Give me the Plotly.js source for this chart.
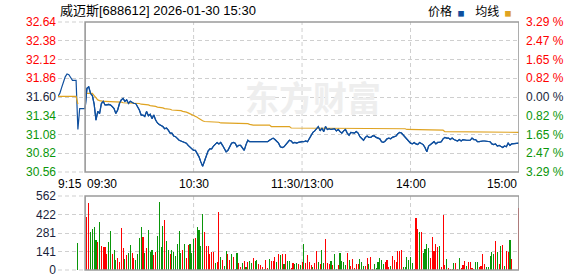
<!DOCTYPE html>
<html><head><meta charset="utf-8">
<script src="https://cdn.plot.ly/plotly-3.0.1.min.js"></script>
<style>html,body{margin:0;padding:0;background:#fff}#chart{width:578px;height:276px}</style>
</head><body><div id="chart"></div>
<script>
// ---------- data ----------
const stockTitle = '威迈斯[688612] 2026-01-30 15:30';
const legendNames = ['价格', '均线'];
const watermarkText = '东方财富';
const prevClose = 31.60;
const priceTicks = [30.56, 30.82, 31.08, 31.34, 31.60, 31.86, 32.12, 32.38, 32.64];
const priceTickText = ['30.56', '30.82', '31.08', '31.34', '31.60', '31.86', '32.12', '32.38', '32.64'];
const pctTickText = ['3.29 %', '2.47 %', '1.65 %', '0.82 %', '0.00 %', '0.82 %', '1.65 %', '2.47 %', '3.29 %'];
const volTicks = [0, 140.5, 281, 421.5, 562];
const volTickText = ['0', '141', '281', '422', '562'];
const timeLabels = ['9:15', '09:30', '10:30', '11:30/13:00', '14:00', '15:00'];
const timeLabelMinutes = [-15, 0, 60, 120, 180, 240];

// call auction 9:15 - 9:29 (minutes -15 .. -1 relative to 9:30)
const preMinutes = [-15, -14, -13, -12, -11, -10, -9, -8, -7, -6, -5, -4, -3, -2, -1];
const prePrice = [31.61, 31.65, 31.73, 31.81, 31.88, 31.92, 31.91, 31.87, 31.83, 31.83, 31.83, 31.15, 31.44, 31.44, 31.44];
const preAvg = [31.61, 31.61, 31.61, 31.61, 31.61, 31.61, 31.61, 31.61, 31.61, 31.61, 31.61, 31.50, null, null, null];
const preVolume = [0, 0, 0, 0, 0, 0, 0, 0, 0, 0, 0, 206, 0, 0, 0];
const preDir = 'ggggggggggggggg';

// continuous session, one value per minute, 09:30 .. 11:30 | 13:00 .. 15:00 (241 minutes)
const price = [
  31.44, 31.72, 31.74, 31.65, 31.62, 31.50, 31.28, 31.40, 31.37, 31.51,
  31.54, 31.49, 31.49, 31.50, 31.49, 31.47, 31.44, 31.37, 31.42, 31.51,
  31.56, 31.58, 31.54, 31.56, 31.51, 31.54, 31.52, 31.51, 31.51, 31.47,
  31.42, 31.35, 31.35, 31.33, 31.40, 31.34, 31.36, 31.30, 31.35, 31.28,
  31.24, 31.22, 31.21, 31.19, 31.16, 31.17, 31.14, 31.10, 31.10, 31.06,
  31.05, 31.02, 31.00, 30.99, 30.98, 30.97, 30.96, 30.93, 30.91, 30.88,
  30.86, 30.86, 30.82, 30.77, 30.70, 30.64, 30.71, 30.78, 30.85, 30.88,
  30.88, 30.92, 30.95, 30.97, 30.95, 30.97, 30.93, 30.89, 30.84, 30.86,
  30.91, 30.96, 30.97, 30.96, 30.91, 30.93, 30.93, 30.90, 30.86, 30.94,
  31.00, 30.98, 30.98, 30.98, 30.99, 30.99, 30.98, 30.98, 30.99, 30.99,
  30.98, 30.98, 31.00, 31.02, 31.03, 31.01, 30.99, 30.96, 30.91, 30.90,
  30.91, 30.94, 30.97, 31.00, 30.99, 30.96, 30.97, 30.96, 30.97, 30.98,
  30.98, 30.98, 30.99, 30.98, 31.02, 31.06, 31.11, 31.13, 31.16, 31.19,
  31.13, 31.17, 31.12, 31.19, 31.15, 31.16, 31.15, 31.15, 31.16, 31.13,
  31.15, 31.12, 31.10, 31.13, 31.15, 31.10, 31.07, 31.11, 31.10, 31.10,
  31.12, 31.10, 31.05, 31.03, 31.00, 31.04, 31.06, 31.04, 31.04, 31.06,
  31.06, 31.04, 31.03, 31.02, 30.98, 30.97, 30.99, 31.02, 31.03, 31.02,
  31.04, 31.05, 31.06, 31.09, 31.11, 31.10, 31.07, 31.04, 31.01, 30.98,
  30.96, 30.95, 30.97, 30.95, 30.94, 30.97, 30.96, 30.94, 30.90, 30.84,
  30.92, 30.94, 30.97, 30.98, 30.95, 30.97, 30.97, 30.98, 31.02, 31.04,
  31.03, 31.03, 31.01, 31.03, 31.01, 31.00, 30.99, 31.01, 30.99, 31.01,
  31.00, 31.00, 31.00, 31.00, 31.03, 31.01, 31.01, 30.98, 30.98, 30.99,
  30.99, 30.99, 30.99, 30.99, 30.98, 30.95, 30.94, 30.95, 30.92, 30.93,
  30.91, 30.90, 30.92, 30.91, 30.96, 30.93, 30.95, 30.95, 30.95, 30.95,
  30.96
];
const avgPrice = [
  31.65, 31.65, 31.65, 31.65, 31.65, 31.62, 31.59, 31.56, 31.55, 31.54,
  31.54, 31.54, 31.54, 31.53, 31.53, 31.53, 31.53, 31.53, 31.53, 31.53,
  31.53, 31.52, 31.52, 31.52, 31.52, 31.52, 31.52, 31.52, 31.52, 31.51,
  31.51, 31.50, 31.50, 31.50, 31.49, 31.49, 31.48, 31.48, 31.47, 31.47,
  31.46, 31.46, 31.45, 31.45, 31.44, 31.44, 31.43, 31.43, 31.42, 31.42,
  31.42, 31.41, 31.41, 31.41, 31.40, 31.40, 31.39, 31.38, 31.37, 31.36,
  31.35, 31.34, 31.32, 31.30, 31.28, 31.27, 31.26, 31.26, 31.25, 31.25,
  31.25, 31.25, 31.25, 31.25, 31.25, 31.24, 31.24, 31.24, 31.24, 31.24,
  31.24, 31.24, 31.24, 31.23, 31.23, 31.23, 31.23, 31.23, 31.23, 31.23,
  31.23, 31.22, 31.21, 31.21, 31.21, 31.21, 31.21, 31.21, 31.21, 31.21,
  31.21, 31.21, 31.21, 31.19, 31.19, 31.19, 31.19, 31.19, 31.19, 31.19,
  31.19, 31.19, 31.19, 31.19, 31.17, 31.17, 31.17, 31.17, 31.17, 31.17,
  31.17, 31.17, 31.17, 31.17, 31.17, 31.17, 31.17, 31.17, 31.17, 31.17,
  31.17, 31.17, 31.17, 31.17, 31.17, 31.17, 31.17, 31.17, 31.17, 31.17,
  31.17, 31.17, 31.17, 31.17, 31.17, 31.17, 31.16, 31.16, 31.16, 31.16,
  31.16, 31.16, 31.16, 31.16, 31.16, 31.16, 31.16, 31.16, 31.16, 31.16,
  31.16, 31.16, 31.16, 31.16, 31.16, 31.16, 31.16, 31.16, 31.16, 31.16,
  31.16, 31.16, 31.16, 31.16, 31.16, 31.16, 31.16, 31.16, 31.15, 31.15,
  31.15, 31.15, 31.15, 31.15, 31.15, 31.15, 31.15, 31.15, 31.14, 31.14,
  31.14, 31.14, 31.14, 31.14, 31.14, 31.14, 31.14, 31.14, 31.14, 31.12,
  31.12, 31.12, 31.12, 31.12, 31.12, 31.12, 31.12, 31.12, 31.12, 31.12,
  31.12, 31.12, 31.12, 31.12, 31.12, 31.12, 31.12, 31.12, 31.12, 31.12,
  31.12, 31.12, 31.12, 31.12, 31.12, 31.12, 31.12, 31.12, 31.12, 31.12,
  31.11, 31.11, 31.11, 31.11, 31.11, 31.11, 31.11, 31.11, 31.11, 31.11,
  31.11
];
const volume = [
  0,
  404, 511, 290, 310, 328, 229, 214, 366, 183, 175, 175, 122, 214, 298, 122, 153, 76,
  92, 61, 320, 168, 84, 114, 130, 191, 130, 92, 76, 122, 244, 328, 252, 130, 168,
  305, 137, 153, 114, 137, 259, 519, 175, 336, 381, 221, 153, 122, 153, 137, 107, 198,
  298, 130, 153, 198, 92, 191, 198, 130, 237, 244, 328, 305, 183, 427, 290, 183, 183,
  122, 137, 137, 53, 61, 442, 99, 76, 31, 145, 122, 76, 122, 99, 8, 130, 53, 23, 53,
  69, 23, 61, 69, 53, 92, 69, 76, 46, 38, 23, 8, 76, 15, 84, 69, 69, 99, 61, 122, 114,
  122, 46, 122, 69, 69, 15, 53, 46,
  53, 46, 38, 61, 198, 53, 114, 61, 38, 23, 53, 145, 61, 46, 153, 53, 237, 53, 46, 69,
  38, 122, 8, 38, 130, 69, 61, 38, 130, 76, 31, 84, 15, 46, 46, 84, 61, 31, 31, 92, 46,
  99, 8, 46, 15, 61, 92, 76, 46, 61, 76, 23, 31, 107, 76, 61, 145, 145, 153, 23, 23, 99,
  76, 99, 53,
  8, 397, 313, 290, 290, 130, 160, 198, 168, 92, 252, 145, 198, 175, 183, 23, 420, 38,
  84, 15, 8, 8, 53, 53, 8, 92, 15, 38, 69, 31, 61, 61, 15, 8, 61, 61, 23, 31, 122, 46,
  23, 23, 107, 137, 122, 221, 137, 46, 183, 191, 31, 145, 137, 229, 84,
  0, 0, 0, 473
];
// r = up minute (red bar), g = down minute (green bar)
const volDir = 'r' +
  'rrggggrgrr' + 'rrggrggrrr' + 'rgrggrrggg' + 'grgrgggrrg' + 'gggrggrggg' + 'g' +
  'ggrgrrgggr' + 'ggggrrrrrr' + 'grrgrggrrg' + 'rggrrgrgrg' + 'grggrrrgrr' + 'grrrgrgrgr' + 'ggrrg' +
  'grgrgrrrrg' + 'rrgrggrrrg' + 'rggrggggrg' + 'rrrrrgggrr' + 'grrggggggr' + 'rrgrrrrrrg' + 'ggggg' +
  'grrgrggggr' + 'rrrrgrrrgr' + 'rrgrrgrrrg' + 'rrrrggrrrr' + 'gggggrgrgr' + 'grrgr' +
  'rrrr';

// ---------- build ----------
const C = {
  blue: '#0f4f9e', gold: '#dfa321', red: '#ff0000', green: '#0a960a',
  grid: '#cfcfcf', frame: '#9a9a9a', text: '#000000', navy: '#1a1f3c'
};
const mainMinutes = price.map((_, i) => i);
const allMinutes = preMinutes.concat(mainMinutes);
const allPrice = prePrice.concat(price);
const volColor = d => d === 'r' ? C.red : C.green;

function levelColor(v) {
  if (Math.abs(v - prevClose) < 1e-9) return C.navy;
  return v > prevClose ? C.red : C.green;
}
const leftText = priceTicks.map((v, i) => '<span style="color:' + levelColor(v) + '">' + priceTickText[i] + '</span>');
const rightText = priceTicks.map((v, i) => '<span style="color:' + levelColor(v) + '">' + pctTickText[i] + '</span>');

const traces = [
  { x: allMinutes, y: allPrice, type: 'scatter', mode: 'lines', line: { color: C.blue, width: 1.2 }, xaxis: 'x', yaxis: 'y', hoverinfo: 'skip' },
  { x: preMinutes, y: preAvg, type: 'scatter', mode: 'lines', line: { color: C.gold, width: 1.2 }, xaxis: 'x', yaxis: 'y', hoverinfo: 'skip' },
  { x: mainMinutes, y: avgPrice, type: 'scatter', mode: 'lines', line: { color: C.gold, width: 1.2 }, xaxis: 'x', yaxis: 'y', hoverinfo: 'skip' },
  { x: mainMinutes, y: price, type: 'scatter', mode: 'lines', line: { color: C.blue, width: 1.2 }, xaxis: 'x', yaxis: 'y', hoverinfo: 'skip' },
  { x: mainMinutes, y: avgPrice, type: 'scatter', mode: 'lines', opacity: 0, xaxis: 'x', yaxis: 'y2', hoverinfo: 'skip' },
  { x: preMinutes, y: preVolume, type: 'bar', width: 0.6, marker: { color: preDir.split('').map(volColor), line: { width: 0 } }, xaxis: 'x', yaxis: 'y3', hoverinfo: 'skip' },
  { x: mainMinutes, y: volume, type: 'bar', width: 0.6, marker: { color: volDir.split('').map(volColor), line: { width: 0 } }, xaxis: 'x', yaxis: 'y3', hoverinfo: 'skip' }
];

const numFont = { family: 'Liberation Sans, Arial, sans-serif', size: 12, color: C.text };
const plotTop = 22, plotBottom = 270, priceBottom = 172, volTop = 196;
const H = plotBottom - plotTop;
const priceDomain = [(plotBottom - priceBottom) / H, 1];
const volDomain = [0, (plotBottom - volTop) / H];
const xRange = [-15, 240];

const shapes = [];
const gridLine = { color: C.grid, width: 1, dash: '4px,3px' };
[60, 120, 180].forEach(m => {
  ['y domain', 'y3 domain'].forEach(yr => shapes.push({
    type: 'line', xref: 'x', yref: yr, x0: m, x1: m, y0: 0, y1: 1, line: gridLine, layer: 'below'
  }));
});
// dashed lines at the edges of both panels (Plotly drops edge gridlines)
['y domain', 'y3 domain'].forEach(yr => [0, 1].forEach(e => shapes.push({
  type: 'line', xref: 'x', yref: yr, x0: xRange[0], x1: 0, y0: e, y1: e, line: gridLine, layer: 'below'
})));
['y domain', 'y3 domain'].forEach(yr => shapes.push({
  type: 'rect', xref: 'x', yref: yr, x0: 0, x1: 240, y0: 0, y1: 1,
  line: { color: C.frame, width: 1.6 }, fillcolor: 'rgba(0,0,0,0)', layer: 'above'
}));

const annotations = [];
timeLabels.forEach((t, i) => {
  const m = timeLabelMinutes[i];
  annotations.push({
    text: t, xref: 'x', x: m, yref: 'paper', y: (plotBottom - 184) / H, yanchor: 'middle',
    xanchor: i <= 1 ? 'left' : (i === timeLabels.length - 1 ? 'right' : 'center'),
    xshift: i === 0 ? -2 : 0, showarrow: false, font: numFont
  });
});
annotations.push({
  text: stockTitle, xref: 'paper', x: 0, xanchor: 'left', xshift: 0,
  yref: 'paper', y: (plotBottom - 10) / H, yanchor: 'middle', showarrow: false,
  font: { family: 'Liberation Sans, Noto Sans CJK SC, sans-serif', size: 13, color: C.text }
});
annotations.push({
  text: legendNames[0] + '  <span style="color:' + C.blue + ';font-size:7px">■</span>    ' +
        legendNames[1] + '  <span style="color:' + C.gold + ';font-size:7px">■</span>',
  xref: 'paper', x: (514 - 58) / 461, xanchor: 'right',
  yref: 'paper', y: (plotBottom - 10) / H, yanchor: 'middle', showarrow: false,
  font: { family: 'Noto Sans CJK SC, sans-serif', size: 12, color: C.text }
});
annotations.push({
  text: '<b>' + watermarkText + '</b>', xref: 'paper', x: (313 - 58) / 461, xanchor: 'center',
  yref: 'paper', y: (plotBottom - 97) / H, yanchor: 'middle', showarrow: false,
  font: { family: 'Noto Sans CJK SC, sans-serif', size: 34, color: '#eeeeee' }
});

const layout = {
  width: 578, height: 276,
  margin: { l: 58, r: 59, t: plotTop, b: 276 - plotBottom, pad: 0 },
  paper_bgcolor: '#ffffff', plot_bgcolor: '#ffffff',
  showlegend: false, bargap: 0,
  font: numFont,
  xaxis: { range: xRange, showgrid: false, zeroline: false, showticklabels: false, ticks: '', showline: false, anchor: 'y3', fixedrange: true },
  yaxis: {
    domain: priceDomain, range: [30.56, 32.64], tickmode: 'array', tickvals: priceTicks, ticktext: leftText,
    showgrid: true, gridcolor: C.grid, griddash: '4px,3px', gridwidth: 1, zeroline: false, showline: false,
    ticks: '', tickfont: numFont, anchor: 'x', ticklabelstandoff: 1, ticklabeloverflow: 'allow'
  },
  yaxis2: {
    overlaying: 'y', side: 'right', anchor: 'x', range: [30.56, 32.64], tickmode: 'array', tickvals: priceTicks, ticktext: rightText,
    showgrid: false, zeroline: false, showline: false, ticks: '', tickfont: numFont, ticklabelstandoff: 6, ticklabeloverflow: 'allow'
  },
  yaxis3: {
    domain: volDomain, range: [0, 562], tickmode: 'array', tickvals: volTicks, ticktext: volTickText,
    showgrid: true, gridcolor: C.grid, griddash: '4px,3px', gridwidth: 1, zeroline: false, showline: false,
    ticks: '', tickfont: { family: numFont.family, size: 12, color: C.navy }, anchor: 'x', ticklabelstandoff: 1,
    ticklabeloverflow: 'allow'
  },
  shapes: shapes,
  annotations: annotations
};

Plotly.newPlot('chart', traces, layout, { displayModeBar: false, staticPlot: true });
</script>
</body></html>
